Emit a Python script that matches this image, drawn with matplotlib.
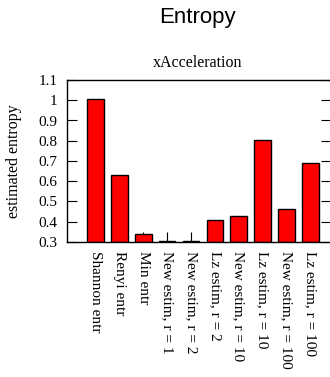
import matplotlib
matplotlib.use("Agg")
import matplotlib.pyplot as plt
import numpy as np

categories = ["Shannon entr", "Renyi entr", "Min entr", "New estim, r = 1",
              "New estim, r = 2", "Lz estim, r = 2", "New estim, r = 10",
              "Lz estim, r = 10", "New estim, r = 100", "Lz estim, r = 100"]
values = [1.004, 0.632, 0.339, 0.307, 0.304, 0.408, 0.430, 0.802, 0.463, 0.692]
yticks = [0.3, 0.4, 0.5, 0.6, 0.7, 0.8, 0.9, 1.0, 1.1]
ytick_labels = ["0.3", "0.4", "0.5", "0.6", "0.7", "0.8", "0.9", "1", "1.1"]

W, H = 330, 377
fig = plt.figure(figsize=(W / 100, H / 100), dpi=100)
left, right, top, bottom = 67, 331, 80, 242
ax = fig.add_axes([left / W, 1 - bottom / H, (right - left) / W, (bottom - top) / H])

serif = ["Liberation Serif", "DejaVu Serif"]
x = np.arange(len(categories))
ax.bar(x, [v - 0.3 for v in values], bottom=0.3, width=0.7, color="#ff0000",
       edgecolor="black", linewidth=1.0, zorder=2)
ax.set_xlim(-1.19, 9.86)
ax.set_ylim(0.3, 1.1)
ax.set_yticks(yticks)
ax.set_yticklabels(ytick_labels, fontfamily=serif, fontsize=11)
ax.set_xticks(x)
ax.set_xticklabels(categories, rotation=-90, fontfamily=serif, fontsize=11,
                   va="top", ha="center")
ax.tick_params(axis="y", direction="in", length=7, width=0.8, left=True, right=True, pad=7)
ax.tick_params(axis="x", direction="in", length=7, width=0.8, bottom=True, top=False, pad=6.5)
for s in ax.spines.values():
    s.set_linewidth(1.0)
ax.set_ylabel("estimated entropy", fontfamily=serif, fontsize=11.5)
ax.yaxis.set_label_coords((22 - left) / (right - left), 0.5)

fig.text(197 / W, 1 - 17.5 / H, "Entropy", ha="center", va="center",
         fontfamily=["Liberation Sans", "DejaVu Sans"], fontsize=16)
fig.text(198 / W, 1 - 63 / H, "xAcceleration", ha="center", va="center",
         fontfamily=serif, fontsize=11.5)

fig.savefig("out.png", dpi=100)
